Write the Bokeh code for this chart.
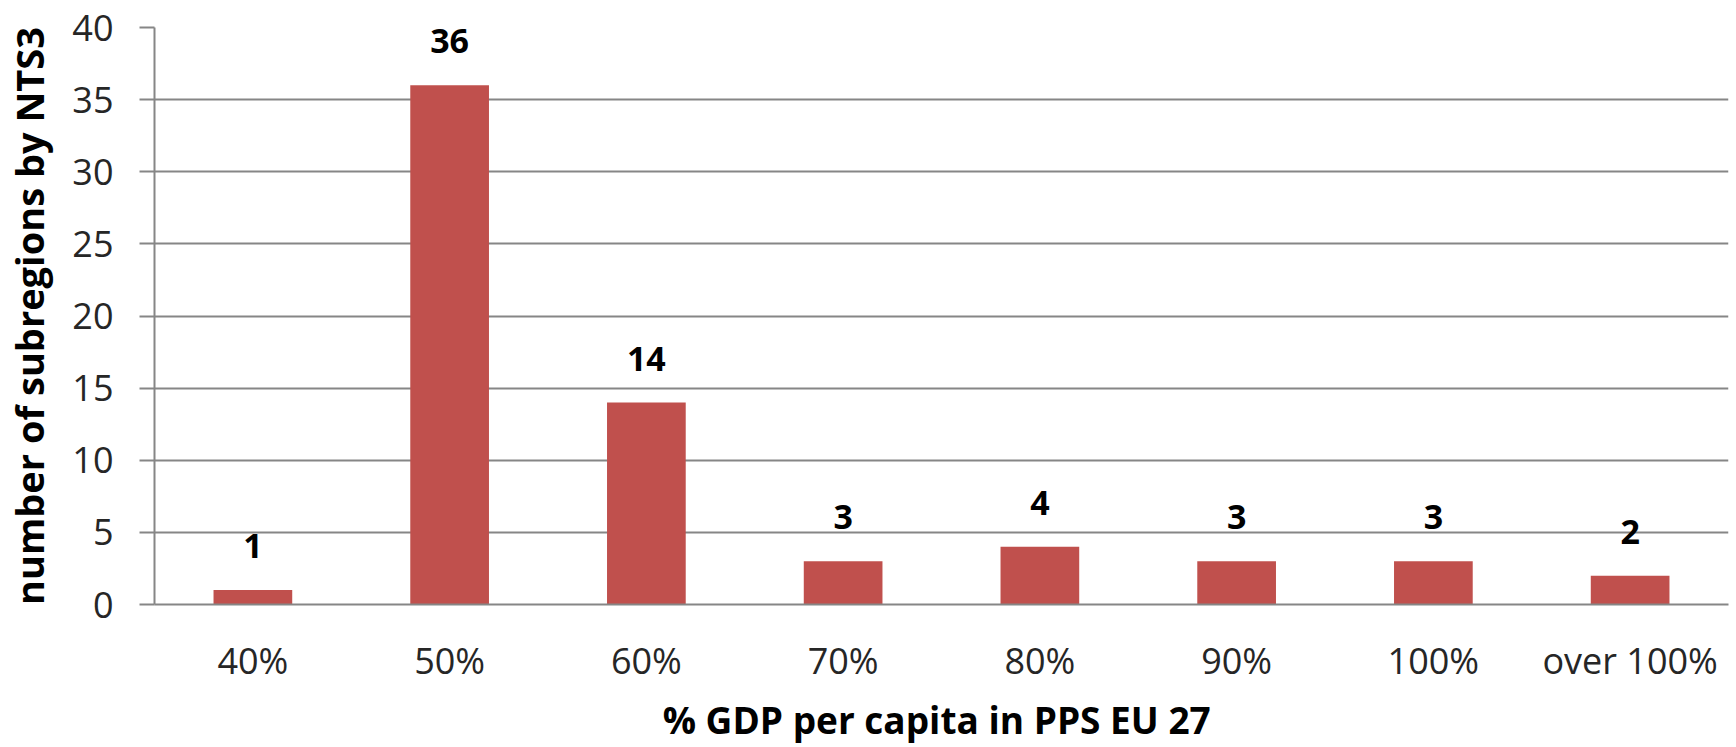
from bokeh.plotting import figure
from bokeh.models import ColumnDataSource, FactorRange, Range1d, SingleIntervalTicker, LabelSet
from bokeh.core.properties import value
from bokeh.embed import file_html
from bokeh.resources import INLINE

categories = ["40%", "50%", "60%", "70%", "80%", "90%", "100%", "over 100%"]
values = [1, 36, 14, 3, 4, 3, 3, 2]
labels = [str(v) for v in values]
x_title = "%  GDP per capita in PPS EU 27"
y_title = "number of subregions by NTS3"

FONT = "Open Sans"
GRID = "#868686"

src = ColumnDataSource(dict(cat=categories, val=values, lab=labels))

p = figure(x_range=FactorRange(*categories), y_range=Range1d(0, 40),
           width=1736, height=747, output_backend="svg", toolbar_location=None,
           min_border_left=154, min_border_right=8, min_border_top=27, min_border_bottom=142)
p.outline_line_color = None

p.vbar(x="cat", top="val", width=0.4, source=src, fill_color="#C0504D", line_color=None)

lbl = LabelSet(x="cat", y="val", text="lab", source=src, text_align="center",
               text_baseline="middle", y_offset=44, text_font=value(FONT),
               text_font_size="34px", text_font_style="bold", text_color="black")
p.add_layout(lbl)

p.yaxis.ticker = SingleIntervalTicker(interval=5)
p.yaxis.minor_tick_line_color = None
p.yaxis.major_tick_out = 15
p.yaxis.major_tick_in = 0
p.yaxis.major_tick_line_color = GRID
p.yaxis.major_tick_line_width = 2
p.yaxis.axis_line_color = GRID
p.yaxis.axis_line_width = 2
p.yaxis.major_label_text_font = FONT
p.yaxis.major_label_text_font_size = "36px"
p.yaxis.major_label_text_color = "#262626"
p.yaxis.major_label_standoff = 26
p.yaxis.axis_label = y_title
p.yaxis.axis_label_text_font = FONT
p.yaxis.axis_label_text_font_size = "38px"
p.yaxis.axis_label_text_font_style = "bold"
p.yaxis.axis_label_text_color = "black"
p.yaxis.axis_label_standoff = 14

p.xaxis.axis_line_color = GRID
p.xaxis.axis_line_width = 2
p.xaxis.major_tick_line_color = None
p.xaxis.minor_tick_line_color = None
p.xaxis.major_tick_out = 0
p.xaxis.major_tick_in = 0
p.xaxis.major_label_text_font = FONT
p.xaxis.major_label_text_font_size = "36px"
p.xaxis.major_label_text_color = "#262626"
p.xaxis.major_label_standoff = 31
p.xaxis.axis_label = x_title
p.xaxis.axis_label_text_font = FONT
p.xaxis.axis_label_text_font_size = "37px"
p.xaxis.axis_label_text_font_style = "bold"
p.xaxis.axis_label_text_color = "black"
p.xaxis.axis_label_standoff = 6

p.xgrid.grid_line_color = None
p.ygrid.grid_line_color = GRID
p.ygrid.grid_line_width = 2

open("out.html", "w").write(file_html(p, INLINE))
